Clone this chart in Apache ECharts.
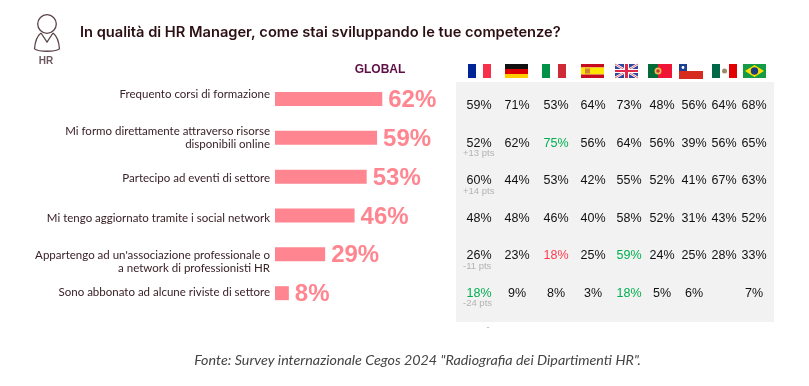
<!DOCTYPE html>
<html>
<head>
<meta charset="utf-8">
<style>
html, body { margin: 0; padding: 0; background: #fff; }
#chart { width: 809px; height: 386px; }
</style>
<script src="https://cdn.jsdelivr.net/npm/echarts@6/dist/echarts.min.js"></script>
</head>
<body>
<div id="chart"></div>
<script>
// dati
const categories = [
    'Frequento corsi di formazione',
    'Mi formo direttamente attraverso risorse\ndisponibili online',
    'Partecipo ad eventi di settore',
    'Mi tengo aggiornato tramite i social network',
    "Appartengo ad un'associazione professionale o\na network di professionisti HR",
    'Sono abbonato ad alcune riviste di settore'
];
const globalValues = [62, 59, 53, 46, 29, 8];
const countries = ['Francia', 'Germania', 'Italia', 'Spagna', 'Regno Unito', 'Portogallo', 'Cile', 'Messico', 'Brasile'];
const rowCorsi = [59, 71, 53, 64, 73, 48, 56, 64, 68];
const rowOnline = [52, 62, 75, 56, 64, 56, 39, 56, 65];
const rowEventi = [60, 44, 53, 42, 55, 52, 41, 67, 63];
const rowSocial = [48, 48, 46, 40, 58, 52, 31, 43, 52];
const rowNetwork = [26, 23, 18, 25, 59, 24, 25, 28, 33];
const rowRiviste = [18, 9, 8, 3, 18, 5, 6, null, 7];
const franceDelta = [null, '+13 pts', '+14 pts', null, '-11 pts', '-24 pts'];
const greenCells = ['1-2', '4-4', '5-0', '5-4'];
const redCells = ['4-2'];

const tableRows = [rowCorsi, rowOnline, rowEventi, rowSocial, rowNetwork, rowRiviste];
// le colonne della tabella non sono equidistanti
const colShift = [0, 4, 9, 12, 14, 13, 11, 7, 3];
// spostamento verticale (px) dell'etichetta rispetto alla barra
const labelShift = [-5, 0, 2, 3, 7, -1];

const BAR = '#ff8690';
const ARIAL = '"Liberation Sans", Arial, sans-serif';

const cells = [];
tableRows.forEach(function (row, r) {
    row.forEach(function (v, c) {
        if (v === null) return;
        const key = r + '-' + c;
        let color = '#111';
        if (greenCells.indexOf(key) >= 0) color = '#00b050';
        if (redCells.indexOf(key) >= 0) color = '#ff3b4e';
        cells.push({
            value: [c, r],
            label: { formatter: v + '%', color: color, offset: [colShift[c], 0] }
        });
    });
});
const deltaCells = [];
franceDelta.forEach(function (d, r) {
    if (d) deltaCells.push({ value: [0, r], label: { formatter: d } });
});

// stile rich per ogni riga: padding o riga vuota spostano il blocco di testo
const labelBase = { fontFamily: 'Lato', fontSize: 11.5, lineHeight: 13, color: '#3a2228' };
const labelRich = { line: labelBase };
labelShift.forEach(function (s, i) {
    labelRich['blank' + i] = Object.assign({}, labelBase, { lineHeight: Math.max(2 * s, 1) });
    labelRich['one' + i] = Object.assign({}, labelBase, { padding: [s > 0 ? 2 * s : 0, 0, s < 0 ? -2 * s : 0, 0] });
});

function rect(x, y, w, h, fill) {
    return { type: 'rect', shape: { x: x, y: y, width: w, height: h }, style: { fill: fill } };
}
function poly(points, fill) {
    return { type: 'polygon', shape: { points: points }, style: { fill: fill } };
}
function circle(cx, cy, r, fill) {
    return { type: 'circle', shape: { cx: cx, cy: cy, r: r }, style: { fill: fill } };
}
function line(x1, y1, x2, y2, color, w) {
    return { type: 'line', shape: { x1: x1, y1: y1, x2: x2, y2: y2 }, style: { stroke: color, lineWidth: w } };
}

const flags = [
    // Francia
    rect(468, 64, 8, 14, '#002395'), rect(476, 64, 7, 14, '#fff'), rect(483, 64, 8, 14, '#f9304a'),
    // Germania
    rect(505, 64, 23, 5, '#111'), rect(505, 69, 23, 5, '#dd0000'), rect(505, 74, 23, 4, '#ffce00'),
    // Italia
    rect(542, 64, 8, 14, '#009246'), rect(550, 64, 8, 14, '#fff'), rect(558, 64, 8, 14, '#ce2b37'),
    // Spagna
    rect(581, 64, 23, 3.5, '#c60b1e'), rect(581, 67.5, 23, 7, '#ffe600'), rect(581, 74.5, 23, 3.5, '#c60b1e'),
    rect(585, 68.5, 5, 5, '#d0803a'),
    // Regno Unito
    rect(615, 64, 23, 14, '#33479a'),
    line(615, 64, 638, 78, '#fff', 2.5), line(638, 64, 615, 78, '#fff', 2.5),
    line(615, 64, 638, 78, '#e0455a', 0.8), line(638, 64, 615, 78, '#e0455a', 0.8),
    rect(624, 64, 5, 14, '#fff'), rect(615, 69, 23, 4, '#fff'),
    rect(625, 64, 3, 14, '#e0294a'), rect(615, 70, 23, 2, '#e0294a'),
    // Portogallo
    rect(648, 64, 10, 14, '#046a38'), rect(658, 64, 14, 14, '#f01436'),
    circle(658, 71, 3.5, '#e8c04a'), circle(658, 71, 1.8, '#c8323c'),
    // Cile
    rect(679, 64, 24, 7, '#fff'), rect(679, 64, 8, 7, '#1c3f94'),
    circle(683, 67.5, 1.4, '#fff'), rect(679, 71, 24, 8, '#d72b20'),
    // Messico
    rect(712, 64, 8, 14, '#006847'), rect(720, 64, 9, 14, '#fff'), rect(729, 64, 8, 14, '#e30000'),
    circle(724.5, 71, 2.5, '#9a8a66'),
    // Brasile
    rect(743, 64, 23, 14, '#159a45'), poly([[745, 71], [754.5, 65], [764, 71], [754.5, 77]], '#fedf00'),
    circle(754.5, 71, 3.7, '#1a3c80')
];

const ICON = { fill: 'none', stroke: '#5b4347', lineWidth: 1.3 };
const hrIcon = [
    { type: 'circle', shape: { cx: 47, cy: 24, r: 9.3 }, style: ICON },
    { type: 'bezierCurve', shape: { x1: 41, y1: 33, x2: 34.5, y2: 49, cpx1: 37, cpy1: 36, cpx2: 35, cpy2: 42 }, style: ICON },
    { type: 'bezierCurve', shape: { x1: 53, y1: 33, x2: 59.5, y2: 49, cpx1: 57, cpy1: 36, cpx2: 59, cpy2: 42 }, style: ICON },
    { type: 'bezierCurve', shape: { x1: 34.5, y1: 49, x2: 59.5, y2: 49, cpx1: 40, cpy1: 52, cpx2: 54, cpy2: 52 }, style: ICON },
    { type: 'polyline', shape: { points: [[41, 33], [47, 42], [53, 33]] }, style: ICON }
];

const chart = echarts.init(document.getElementById('chart'), null, { renderer: 'canvas' });
chart.setOption({
    animation: false,
    backgroundColor: '#fff',
    grid: [
        { left: 275, top: 79.6, width: 173, height: 233 },
        { left: 462, top: 87.25, width: 306, height: 225 }
    ],
    xAxis: [
        { type: 'value', gridIndex: 0, min: 0, max: 100, show: false },
        { type: 'category', gridIndex: 1, data: countries, show: false }
    ],
    yAxis: [
        {
            type: 'category',
            gridIndex: 0,
            data: categories,
            inverse: true,
            axisLine: { show: false },
            axisTick: { show: false },
            axisLabel: {
                margin: 5,
                align: 'right',
                rich: labelRich,
                formatter: function (v, i) {
                    const lines = v.split('\n');
                    if (lines.length === 1) return '{one' + i + '|' + v + '}';
                    const text = '{line|' + lines[0] + '}\n{line|' + lines[1] + '}';
                    return labelShift[i] > 0 ? '{blank' + i + '| }\n' + text : text;
                }
            }
        },
        { type: 'category', gridIndex: 1, data: categories, inverse: true, show: false }
    ],
    series: [
        {
            name: 'GLOBAL',
            type: 'bar',
            xAxisIndex: 0,
            yAxisIndex: 0,
            barWidth: 14,
            data: globalValues,
            itemStyle: { color: BAR },
            label: {
                show: true,
                position: 'right',
                distance: 6,
                offset: [0, 1.5],
                formatter: '{c}%',
                color: BAR,
                fontFamily: ARIAL,
                fontSize: 24,
                fontWeight: 'bold'
            }
        },
        {
            name: 'Paesi',
            type: 'scatter',
            xAxisIndex: 1,
            yAxisIndex: 1,
            symbolSize: 0,
            silent: true,
            itemStyle: { opacity: 1 },
            data: cells,
            label: { show: true, position: 'inside', fontFamily: ARIAL, fontSize: 12.5 }
        },
        {
            name: 'Delta',
            type: 'scatter',
            xAxisIndex: 1,
            yAxisIndex: 1,
            symbolSize: 0,
            silent: true,
            itemStyle: { opacity: 1 },
            data: deltaCells,
            label: {
                show: true,
                position: 'inside',
                align: 'left',
                offset: [-16, 10],
                fontFamily: ARIAL,
                fontSize: 9.5,
                color: '#b3b3b3'
            }
        }
    ],
    graphic: [
        rect(456, 82, 318, 240, '#f2f2f2'),
        ...flags,
        ...hrIcon,
        {
            type: 'text',
            x: 46, y: 61,
            style: { text: 'HR', fill: '#6d5a5e', font: 'bold 10px ' + ARIAL, textAlign: 'center', textVerticalAlign: 'middle' }
        },
        {
            type: 'text',
            x: 80, y: 33,
            style: {
                text: 'In qualità di HR Manager, come stai sviluppando le tue competenze?',
                fill: '#2c0f14',
                font: '600 14.65px Inter',
                textVerticalAlign: 'middle'
            }
        },
        {
            type: 'text',
            x: 380, y: 69.5,
            style: { text: 'GLOBAL', fill: '#5e0f45', font: 'bold 12px ' + ARIAL, textAlign: 'center', textVerticalAlign: 'middle' }
        },
        {
            type: 'text',
            x: 488, y: 328,
            style: { text: '-', fill: '#b3b3b3', font: '9px ' + ARIAL, textAlign: 'center', textVerticalAlign: 'middle' }
        },
        {
            type: 'text',
            x: 417.5, y: 360,
            style: {
                text: 'Fonte: Survey internazionale Cegos 2024 "Radiografia dei Dipartimenti HR".',
                fill: '#444',
                font: 'italic 14.3px Lato',
                textAlign: 'center',
                textVerticalAlign: 'middle'
            }
        }
    ]
});
</script>
</body>
</html>
